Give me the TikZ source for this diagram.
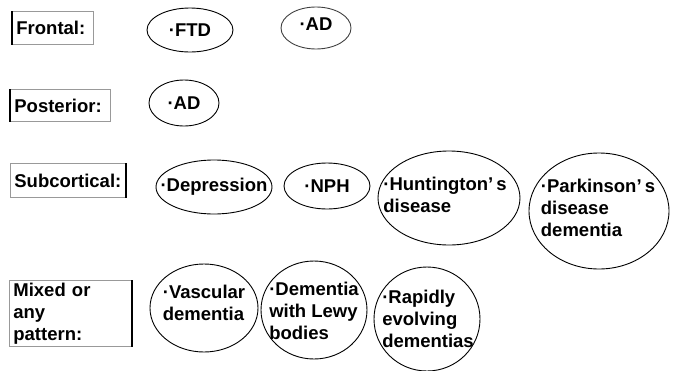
\documentclass[tikz,border=0pt]{standalone}
\usepackage{fontspec}
\setmainfont{Liberation Sans}
\usetikzlibrary{shapes.geometric}
\begin{document}
\begin{tikzpicture}[x=1pt,y=-1pt,
    tag/.style={draw=black!40, line width=0.8pt, anchor=north west, align=left,
      inner xsep=4pt, inner ysep=2pt, font=\fontsize{18.5}{22}\selectfont\bfseries},
    blob/.style={draw, ellipse, line width=0.9pt, inner sep=0pt},
    txt/.style={align=left, inner sep=0pt, font=\fontsize{18.5}{22}\selectfont\bfseries}]
  \useasboundingbox (0,0) rectangle (675,370);

  % pattern labels
  \node[tag, minimum width=81pt, minimum height=33pt, text width=73pt] (frontal) at (12,11) {Frontal:};
  \node[tag, minimum width=100pt, minimum height=32pt, text width=92pt] (posterior) at (10,89) {Posterior:};
  \node[tag, minimum width=115pt, minimum height=34pt, text width=107pt] (subcortical) at (10,163) {Subcortical:};
  \node[tag, minimum width=122pt, minimum height=66pt, text width=114pt] (mixed) at (9,280) {Mixed or\\any\\pattern:};
  \draw[line width=1.4pt] (frontal.north west) -- (frontal.south west);
  \draw[line width=1.4pt] (posterior.north west) -- (posterior.south west);
  \draw[line width=1.4pt] (subcortical.north east) -- (subcortical.south east);
  \draw[line width=1.4pt] (mixed.north east) -- (mixed.south east);

  % frontal
  \node[blob, minimum width=86pt, minimum height=44pt] (ftd) at (190,30) {};
  \node[txt] (ftd-t) at (ftd) {·FTD};
  \node[blob, draw=black!75, minimum width=70pt, minimum height=42pt] (adf) at (316,28) {};
  \node[txt] (adf-t) at ([yshift=4pt]adf) {·AD};

  % posterior
  \node[blob, minimum width=70pt, minimum height=46pt] (adp) at (184,103) {};
  \node[txt] (adp-t) at (adp) {·AD};

  % subcortical
  \node[blob, minimum width=116pt, minimum height=54pt] (dep) at (214,187) {};
  \node[txt] (dep-t) at (dep) {·Depression};
  \node[blob, minimum width=86pt, minimum height=46pt] (nph) at (327,186) {};
  \node[txt] (nph-t) at (nph) {·NPH};
  \node[blob, minimum width=142pt, minimum height=94pt] (hunt) at (449,198) {};
  \node[txt] (hunt-t) at ([xshift=-4pt,yshift=3pt]hunt) {·Huntington’\,s\\disease};
  \node[blob, minimum width=140pt, minimum height=116pt] (park) at (599,211) {};
  \node[txt] (park-t) at ([xshift=-1pt,yshift=3pt]park) {·Parkinson’\,s\\disease\\dementia};

  % mixed
  \node[blob, minimum width=108pt, minimum height=88pt] (vasc) at (204,308) {};
  \node[txt] (vasc-t) at ([yshift=5pt]vasc) {·Vascular\\dementia};
  \node[blob, minimum width=106pt, minimum height=98pt] (lewy) at (314,310) {};
  \node[txt] (lewy-t) at ([yshift=-1pt]lewy) {·Dementia\\with Lewy\\bodies};
  \node[blob, minimum width=106pt, minimum height=104pt] (rapid) at (427,319) {};
  \node[txt] (rapid-t) at ([xshift=1pt]rapid) {·Rapidly\\evolving\\dementias};
\end{tikzpicture}
\end{document}
